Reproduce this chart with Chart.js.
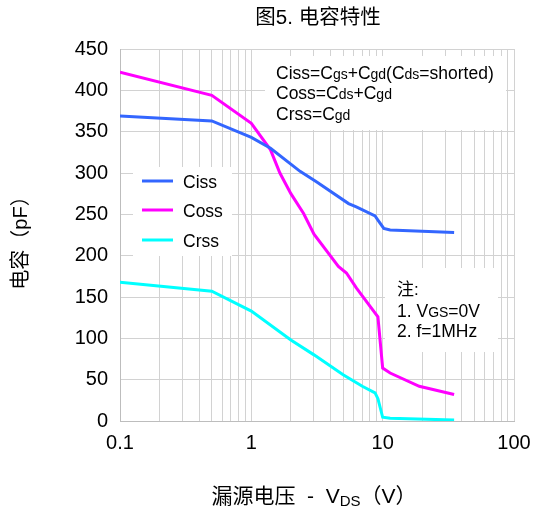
<!DOCTYPE html>
<html>
<head>
<meta charset="utf-8">
<script src="https://cdn.jsdelivr.net/npm/chart.js@4.4.0/dist/chart.umd.min.js"></script>
<style>
  body { margin: 0; background: #fff; }
  #wrap { width: 536px; height: 514px; }
</style>
</head>
<body>
<div id="wrap"><canvas id="cap"></canvas></div>
<script>
// Valeurs (VDS en V, capacité en pF)
const cissV = [0.1, 0.5, 1, 1.4, 2.35, 3.15, 5.5, 6.3, 8.75, 9.2, 10.2, 11.4, 35];
const cissC = [369, 363, 343, 330, 302, 289, 263, 259, 248, 243, 233, 231, 228];

const cossV = [0.1, 0.5, 1, 1.4, 1.65, 2.0, 2.5, 3.0, 4.6, 5.3, 6.3, 9.2, 10, 11.4, 19, 35];
const cossC = [422, 394, 360, 328, 300, 275, 251, 226, 187, 179, 161, 126, 64, 58, 42, 32];

const crssV = [0.1, 0.5, 1, 2, 3, 5, 7, 8.75, 9.2, 10, 11.4, 35];
const crssC = [168, 157, 133, 98, 80, 56, 42, 34, 27, 4.5, 3.2, 1.2];

const seriesNames = ["Ciss", "Coss", "Crss"];
const seriesColors = ["#3366ff", "#ff00ff", "#00ffff"];

const xDecades = [0.1, 1, 10, 100];   // labels de l'axe X
const yTicks = [0, 50, 100, 150, 200, 250, 300, 350, 400, 450];

const FONT = '"Liberation Sans", Arial, "Noto Sans CJK SC", sans-serif';

function toPoints(xs, ys) {
    return xs.map((x, i) => ({ x: x, y: ys[i] }));
}

// dessine une suite de morceaux de texte de tailles différentes
function runsWidth(ctx, runs) {
    let w = 0;
    runs.forEach(r => {
        ctx.font = r[1] + 'px ' + FONT;
        w += ctx.measureText(r[0]).width;
    });
    return w;
}
function drawRuns(ctx, x, y, runs) {
    runs.forEach(r => {
        ctx.font = r[1] + 'px ' + FONT;
        ctx.fillText(r[0], x, y + (r[2] || 0));
        x += ctx.measureText(r[0]).width;
    });
}

const textPlugin = {
    id: 'textes',
    beforeDatasetsDraw(chart) {
        const ctx = chart.ctx;
        ctx.save();
        ctx.fillStyle = '#fff';
        ctx.fillRect(133, 167, 99, 89);   // légende
        ctx.fillRect(265, 56, 241, 74);   // formules
        ctx.fillRect(385, 268, 113, 84);  // notes
        ctx.restore();
    },
    afterDraw(chart) {
        const ctx = chart.ctx;
        ctx.save();
        ctx.fillStyle = '#000';
        ctx.textAlign = 'left';
        ctx.textBaseline = 'middle';

        // titre
        ctx.font = '20.5px ' + FONT;
        ctx.textAlign = 'center';
        ctx.fillText('图5. 电容特性', 318, 18);

        // titre axe Y
        ctx.save();
        ctx.translate(21.5, 238);
        ctx.rotate(-Math.PI / 2);
        ctx.font = '20px ' + FONT;
        ctx.fillText('电容（pF）', 0, 0);
        ctx.restore();

        // titre axe X
        ctx.textAlign = 'left';
        ctx.textBaseline = 'alphabetic';
        const xTitle = [['漏源电压  -  V', 21], ['DS', 15, 3], ['（V）', 21]];
        const w = runsWidth(ctx, xTitle);
        drawRuns(ctx, 314 - w / 2, 503, xTitle);

        // formules
        const big = 17.5, small = 14;
        drawRuns(ctx, 276, 78.5, [['Ciss=C', big], ['gs', small], ['+C', big], ['gd', small],
            ['(C', big], ['ds', small], ['=shorted)', big]]);
        drawRuns(ctx, 276, 99, [['Coss=C', big], ['ds', small], ['+C', big], ['gd', small]]);
        drawRuns(ctx, 276, 119.5, [['Crss=C', big], ['gd', small]]);

        // notes
        drawRuns(ctx, 397, 295, [['注:', 17]]);
        drawRuns(ctx, 397, 316.5, [['1. V', big], ['GS', small], ['=0V', big]]);
        drawRuns(ctx, 397, 337, [['2. f=1MHz', big]]);

        // légende
        const rows = [181, 210, 240];
        chart.data.datasets.forEach((ds, i) => {
            ctx.strokeStyle = ds.borderColor;
            ctx.lineWidth = 3;
            ctx.beginPath();
            ctx.moveTo(142, rows[i]);
            ctx.lineTo(173, rows[i]);
            ctx.stroke();
            ctx.font = big + 'px ' + FONT;
            ctx.fillText(ds.label, 183, rows[i] + 6.5);
        });
        ctx.restore();
    }
};

const ctxCap = document.getElementById('cap').getContext('2d');
const chartCap = new Chart(ctxCap, {
    type: 'line',
    data: {
        datasets: [
            { label: seriesNames[0], data: toPoints(cissV, cissC), borderColor: seriesColors[0] },
            { label: seriesNames[1], data: toPoints(cossV, cossC), borderColor: seriesColors[1] },
            { label: seriesNames[2], data: toPoints(crssV, crssC), borderColor: seriesColors[2] }
        ]
    },
    options: {
        responsive: true,
        maintainAspectRatio: false,
        animation: false,
        devicePixelRatio: 1,
        layout: { padding: { left: 0, right: 22, top: 49, bottom: 0 } },
        elements: {
            line: { borderWidth: 3, tension: 0, fill: false },
            point: { radius: 0 }
        },
        plugins: {
            legend: { display: false },
            title: { display: false },
            tooltip: { enabled: false }
        },
        scales: {
            x: {
                type: 'logarithmic',
                min: 0.1,
                max: 100,
                afterBuildTicks(scale) {
                    const ticks = [];
                    for (let d = 0; d < xDecades.length - 1; d++) {
                        for (let m = 1; m < 10; m++) ticks.push({ value: xDecades[d] * m });
                    }
                    ticks.push({ value: xDecades[xDecades.length - 1] });
                    scale.ticks = ticks;
                },
                afterFit(scale) {
                    scale.height = 93;
                    scale.paddingRight = 0;
                    scale.paddingLeft = 0;
                },
                grid: { color: '#d2d2d2', drawTicks: false },
                border: { color: '#bdbdbd', width: 1 },
                ticks: {
                    autoSkip: false,
                    maxRotation: 0,
                    padding: 10,
                    color: '#000',
                    font: { family: FONT, size: 20 },
                    callback: v => xDecades.some(d => Math.abs(d - v) < 1e-9) ? String(v) : ''
                }
            },
            y: {
                min: 0,
                max: 450,
                afterBuildTicks(scale) { scale.ticks = yTicks.map(v => ({ value: v })); },
                afterFit(scale) { scale.width = 120; },
                grid: { color: '#d2d2d2', drawTicks: false },
                border: { color: '#bdbdbd', width: 1 },
                ticks: {
                    padding: 12,
                    color: '#000',
                    font: { family: FONT, size: 20 }
                }
            }
        }
    },
    plugins: [textPlugin]
});
</script>
</body>
</html>
